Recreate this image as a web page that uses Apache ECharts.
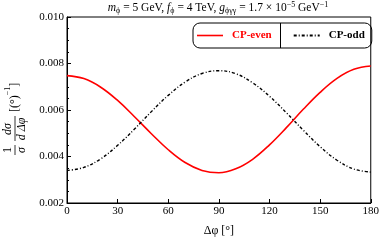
<!DOCTYPE html>
<html><head><meta charset="utf-8">
<script src="https://cdn.jsdelivr.net/npm/echarts@6/dist/echarts.min.js"></script>
<style>html,body{margin:0;padding:0;background:#fff}#c{width:382px;height:242px}</style>
</head><body><div id="c"></div>
<script>
const angles = [0,10,20,30,40,50,60,70,80,90,100,110,120,130,140,150,160,170,180];
const cpEven = [0.00748,0.00735,0.00698,0.00641,0.00571,0.00498,0.00429,0.00374,0.00340,0.00330,0.00347,0.00388,0.00450,0.00524,0.00603,0.00676,0.00736,0.00775,0.00789];
const cpOdd  = [0.00340,0.00353,0.00390,0.00448,0.00518,0.00593,0.00663,0.00720,0.00757,0.00769,0.00756,0.00717,0.00659,0.00588,0.00513,0.00442,0.00384,0.00346,0.00333];
const xTicks = [0,30,60,90,120,150,180];
const yTicks = [0.002,0.004,0.006,0.008,0.010];
const seriesNames = ['CP-even','CP-odd'];

const F = 'Liberation Serif, Times New Roman, serif';
const chart = echarts.init(document.getElementById('c'), null, {renderer:'canvas'});
const pair = a => angles.map((x,i)=>[x,a[i]]);
const sub = {fontFamily:F,fontSize:8,lineHeight:8,verticalAlign:'bottom',color:'#000'};
const sup = {fontFamily:F,fontSize:8,lineHeight:8,verticalAlign:'top',color:'#000'};
chart.setOption({
  animation:false,
  title:{
    text:'{n|}{i|m}{s|ϕ}{n| = 5 GeV, }{i|f}{s|ϕ}{n| = 4 TeV, }{i|g}{s|ϕγγ}{n| = 1.7 × 10}{p|−5}{n| GeV}{p|−1}',
    left:218, top:1, textAlign:'center', padding:0,
    textStyle:{fontFamily:F,fontSize:11.5,fontWeight:'normal',color:'#000',lineHeight:14,
      rich:{n:{fontFamily:F,fontSize:11.5,lineHeight:14,verticalAlign:'middle',color:'#000'},
            i:{fontFamily:F,fontSize:11.5,lineHeight:14,verticalAlign:'middle',fontStyle:'italic',color:'#000'}, s:sub, p:sup}}
  },
  grid:{left:67,right:11,top:17,bottom:39,show:true,borderColor:'#000',borderWidth:1,backgroundColor:'transparent'},
  legend:{
    left:193, top:23, orient:'horizontal',
    padding:[7,7,7,4], itemGap:22, itemWidth:26, itemHeight:10,
    borderColor:'#000', borderWidth:1, borderRadius:7,
    textStyle:{fontFamily:F,fontSize:11,fontWeight:'bold',color:'#000',padding:[0,0,0,4]},
    data:[
      {name:'CP-even',icon:'path://M0,4h26v1.6h-26z',itemStyle:{color:'#ff0000'},textStyle:{color:'#ff0000'}},
      {name:'CP-odd',icon:'path://M0,4h3v2h-3zM5,4h1v2h-1zM8,4h3v2h-3zM13,4h1v2h-1zM16,4h3v2h-3zM21,4h1v2h-1zM24,4h2v2h-2z',itemStyle:{color:'#000'}}]
  },
  xAxis:[{
    type:'value', min:0, max:180, interval:30,
    name:'Δφ [°]', nameLocation:'middle', nameGap:22,
    nameTextStyle:{fontFamily:F,fontSize:12,color:'#000'},
    axisLine:{show:true,lineStyle:{color:'#000',width:1}},
    axisTick:{show:true,inside:true,length:4,lineStyle:{color:'#000'}},
    minorTick:{show:false},
    axisLabel:{fontFamily:F,fontSize:11,color:'#000',margin:3,
      formatter:v=>xTicks.includes(v)?String(v):''},
    splitLine:{show:false}
  }],
  yAxis:[{
    type:'value', min:0.002, max:0.010, interval:0.002,
    axisLine:{show:true,lineStyle:{color:'#000',width:1}},
    axisTick:{show:true,inside:true,length:4,lineStyle:{color:'#000'}},
    minorTick:{show:true,splitNumber:4,length:2,lineStyle:{color:'#000'}},
    axisLabel:{fontFamily:F,fontSize:11,color:'#000',margin:3,
      formatter:v=>{const t=yTicks.find(y=>Math.abs(y-v)<1e-9);return t!==undefined?t.toFixed(3):'';}},
    splitLine:{show:false}
  }],
  series:[
    {name:seriesNames[0],type:'line',data:pair(cpEven),smooth:0.4,symbol:'none',
      lineStyle:{color:'#ff0000',width:1.6},itemStyle:{color:'#ff0000'}},
    {name:seriesNames[1],type:'line',data:pair(cpOdd),smooth:0.4,symbol:'none',
      lineStyle:{color:'#000',width:1.4,type:[3,2,1,2]},itemStyle:{color:'#000'}}
  ],
  graphic:[
    {type:'line',shape:{x1:280.5,y1:23,x2:280.5,y2:48},style:{stroke:'#000',lineWidth:1},z:100},
    {type:'group',x:15,y:112,rotation:Math.PI/2,children:[
      {type:'text',x:-38,y:-7,style:{text:'1',font:'12px '+F,textAlign:'center',textVerticalAlign:'middle',fill:'#000'}},
      {type:'line',shape:{x1:-43,y1:0,x2:-33,y2:0},style:{stroke:'#000',lineWidth:0.8}},
      {type:'text',x:-38,y:7,style:{text:'σ',font:'italic 12px '+F,textAlign:'center',textVerticalAlign:'middle',fill:'#000'}},
      {type:'text',x:-17,y:-7,style:{text:'dσ',font:'italic 12px '+F,textAlign:'center',textVerticalAlign:'middle',fill:'#000'}},
      {type:'line',shape:{x1:-29,y1:0,x2:-4,y2:0},style:{stroke:'#000',lineWidth:0.8}},
      {type:'text',x:-17,y:7,style:{text:'d Δφ',font:'italic 12px '+F,textAlign:'center',textVerticalAlign:'middle',fill:'#000'}},
      {type:'text',x:0,y:0,style:{text:'[(°){p|−1}]',font:'12px '+F,textAlign:'left',textVerticalAlign:'middle',fill:'#000',
        rich:{p:{fontFamily:F,fontSize:8,verticalAlign:'top',padding:[-5,0,0,0],fill:'#000'}}}}
    ]}
  ]
});
</script></body></html>
